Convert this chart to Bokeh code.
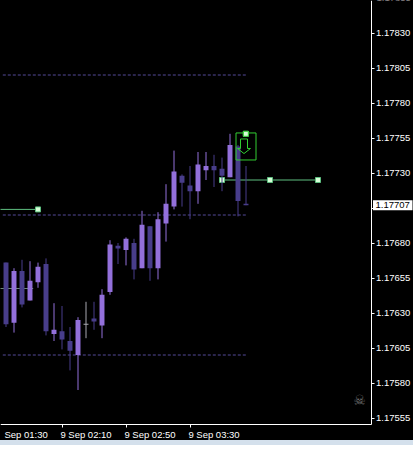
from bokeh.plotting import figure
from bokeh.embed import file_html
from bokeh.resources import INLINE
from bokeh.models import Range1d, FixedTicker, LinearAxis
from bokeh.core.properties import value

PT = 1e-5
# minutes from 9 Sep 02:10, one candle per 5 minutes
times = [-35, -30, -25, -20, -15, -10, -5, 0, 5, 10, 15, 20, 25, 30, 35, 40,
         45, 50, 55, 60, 65, 70, 75, 80, 85, 90, 95, 100, 105, 110, 115]
opens = [117666, 117623, 117660, 117639, 117652, 117665, 117615, 117617, 117610, 117600, 117622, 117626, 117621, 117645, 117678, 117675,
         117680, 117662, 117692, 117662, 117694, 117706, 117728, 117721, 117717, 117732, 117735, 117733, 117727, 117749, 117708]
highs = [117666, 117662, 117668, 117667, 117666, 117669, 117637, 117635, 117620, 117627, 117638, 117638, 117647, 117682, 117680, 117684,
         117683, 117703, 117692, 117702, 117722, 117746, 117729, 117735, 117745, 117745, 117743, 117741, 117758, 117750, 117735]
lows = [117620, 117616, 117634, 117639, 117648, 117614, 117610, 117604, 117589, 117575, 117612, 117618, 117612, 117643, 117665, 117664,
        117654, 117662, 117653, 117654, 117681, 117704, 117706, 117697, 117708, 117725, 117720, 117717, 117727, 117699, 117707]
closes = [117622, 117660, 117636, 117653, 117663, 117617, 117618, 117611, 117603, 117625, 117622, 117624, 117643, 117679, 117676, 117683,
          117661, 117693, 117662, 117697, 117708, 117731, 117723, 117717, 117736, 117735, 117732, 117728, 117750, 117710, 117707]

level_prices = [117800, 117700, 117600]
level_span = [-37, 115]
trend_a_t, trend_a_p = [-45, -15], [117704, 117704]
trend_b_t, trend_b_p = [100, 130, 160], [117725, 117725, 117725]
trend_c_t, trend_c_p = [-45, -18], [117647.5, 117647.5]
box_t, box_p = [108.75, 121.25], [117758.6, 117739.3]
arrow_t = [111.56, 115.94, 115.94, 117.8, 113.75, 109.7, 111.56, 111.56]
arrow_p = [117754.3, 117754.3, 117747.5, 117747.5, 117743.9, 117747.5, 117747.5, 117754.3]
handle_t = [-15, 100, 130, 160, 114.9]
handle_p = [117704, 117725, 117725, 117725, 117758]

price_ticks = list(range(117555, 117855, 25))
clipped_price = 117855
time_ticks = [0, 40, 80]
time_label_t = [-36, -1, 39, 79]
time_labels = ["Sep 01:30", "9 Sep 02:10", "9 Sep 02:50", "9 Sep 03:30"]
last_price = 117707
time_label_price = 117543.5
axis_price = 117555 - 6.5 / 1.4      # where the time axis runs
axis_time = (370.5 - 61.5) / 1.6     # where the price axis runs
price_label_t = 196.6
skull_t, skull_price = 185.9, 117568

LIGHT, DARK, DOJI, GREEN, LINE = "#9370DB", "#483D8B", "#A8A8B0", "#32CD32", "#5FBF80"
FONT, FSIZE = "Liberation Sans", "9.5px"

p = figure(width=413, height=445,
           output_backend="svg", toolbar_location=None,
           x_axis_location=None, y_axis_location=None,
           x_range=Range1d(-61.5 / 1.6, (413 - 61.5) / 1.6),
           y_range=Range1d(117555 - (445 - 417.5) / 1.4, 117555 + 417.5 / 1.4),
           min_border_left=0, min_border_top=0, min_border_right=0, min_border_bottom=0,
           background_fill_color="black", border_fill_color="black",
           outline_line_color=None)
p.styles = {"border-bottom": "5px solid #D4E0EC", "background-color": "black"}
p.grid.visible = False

time_axis = LinearAxis(fixed_location=axis_price, ticker=FixedTicker(ticks=time_ticks),
                       major_label_overrides={t: "" for t in time_ticks},
                       bounds=(p.x_range.start, axis_time))
price_axis = LinearAxis(fixed_location=axis_time, ticker=FixedTicker(ticks=price_ticks),
                        major_label_overrides={t: "" if t == 117705 else f"{t * PT:.5f}" for t in price_ticks},
                        bounds=(axis_price, p.y_range.end))
for ax in (time_axis, price_axis):
    ax.axis_line_color = "white"
    ax.major_tick_line_color = "white"
    ax.major_tick_out = 3
    ax.major_tick_in = 0
    ax.minor_tick_line_color = None
    ax.major_label_text_color = "white"
    ax.major_label_text_font = FONT
    ax.major_label_text_font_size = FSIZE
    ax.major_label_standoff = 2
p.add_layout(time_axis, "below")
p.add_layout(price_axis, "right")

# background objects
p.segment(trend_c_t[0], trend_c_p[0], trend_c_t[1], trend_c_p[1], line_color="#6E8A78", line_width=1)
for lv in level_prices:
    p.segment(level_span[0], lv, level_span[1], lv, line_color="#554A99", line_width=1, line_dash="3 2")
p.line(trend_a_t, trend_a_p, line_color=LINE, line_width=1)
p.line(trend_b_t, trend_b_p, line_color=LINE, line_width=1)
p.scatter(handle_t, handle_p, marker="square", size=5, fill_color="#D8FFD8", line_color=LINE, line_width=1)

# candles
for t, o, h, l, c in zip(times, opens, highs, lows, closes):
    col = DOJI if o == c else (LIGHT if c > o else DARK)
    p.segment(t, l, t, h, line_color=col, line_width=1)
    if o == c:
        p.vbar(t, width=3.1, bottom=o - 0.36, top=o + 0.36, fill_color=col, line_color=None)
    else:
        p.vbar(t, width=3.1, bottom=min(o, c), top=max(o, c), fill_color=col, line_color=None)

# signal box with arrow
p.quad(left=box_t[0], right=box_t[1], bottom=box_p[1], top=box_p[0],
       fill_color=None, line_color=GREEN, line_width=1)
p.line(arrow_t, arrow_p, line_color=GREEN, line_width=1)
p.scatter(handle_t[-1:], handle_p[-1:], marker="square", size=5, fill_color="#D8FFD8", line_color=GREEN, line_width=1)

# time labels, icon, clipped top label
p.text(time_label_t, [time_label_price] * len(time_label_t), text=time_labels, text_color="white",
       text_font=value(FONT), text_font_size=value(FSIZE), text_baseline="middle", text_align="left")
p.text([skull_t], [skull_price], text=["\u2620"], text_color="#707070", text_font=value("DejaVu Sans"),
       text_font_size=value("14px"), text_align="center", text_baseline="middle")
p.text([price_label_t], [clipped_price], text=[f"{clipped_price * PT:.5f}"], text_color="white",
       text_font=value(FONT), text_font_size=value(FSIZE), text_baseline="middle", text_align="left")

# current price tag
p.quad(left=[(372.5 - 61.5) / 1.6], right=[(412 - 61.5) / 1.6], bottom=[last_price - 3.6], top=[last_price + 3.6],
       fill_color="white", line_color=None)
p.text([(375 - 61.5) / 1.6], [last_price], text=[f"{last_price * PT:.5f}"], text_color="black",
       text_font=value(FONT), text_font_size=value(FSIZE), text_baseline="middle", text_align="left")

open("out.html", "w").write(file_html(p, INLINE))
